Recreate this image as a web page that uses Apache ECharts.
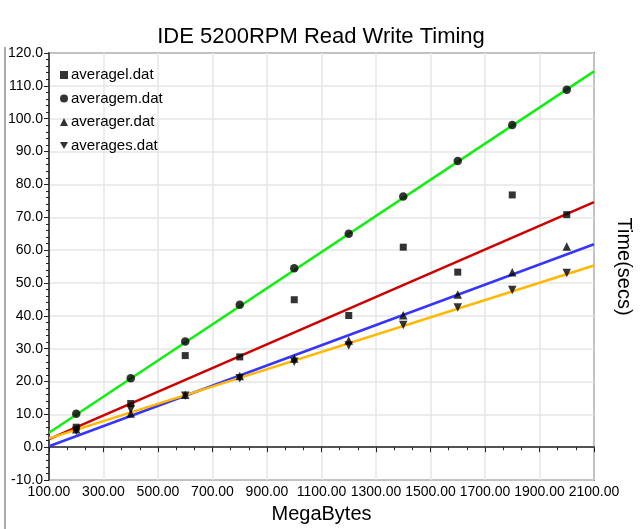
<!DOCTYPE html>
<html>
<head>
<meta charset="utf-8">
<script src="https://cdn.jsdelivr.net/npm/echarts@6/dist/echarts.min.js"></script>
<style>
html,body{margin:0;padding:0;background:#fff;overflow:hidden;}
#chart{width:642px;height:529px;}
</style>
</head>
<body>
<div id="chart"></div>
<script>
// ---- data ----
var megaBytes = [200, 400, 600, 800, 1000, 1200, 1400, 1600, 1800, 2000];
var averagel = [6.1, 13.3, 27.9, 27.5, 44.9, 40.1, 60.9, 53.3, 76.8, 70.8];
var averagem = [10.2, 21.0, 32.2, 43.4, 54.5, 65.0, 76.3, 87.1, 98.1, 108.8];
var averager = [5.5, 10.3, 16.0, 21.7, 27.0, 32.5, 40.2, 46.5, 53.3, 61.1];
var averages = [5.0, 11.5, 15.7, 21.0, 26.0, 31.0, 37.2, 42.5, 47.9, 53.0];
// fit line end points (x at 100 and 2100)
var fitX = [100, 2100];
var fitL = [2.5, 74.6];
var fitM = [4.4, 114.4];
var fitR = [0.3, 61.8];
var fitS = [2.7, 55.3];
var seriesNames = ['averagel.dat', 'averagem.dat', 'averager.dat', 'averages.dat'];
var xTicks = {min: 100, max: 2100, interval: 200};
var yTicks = {min: -10, max: 120, interval: 10};

function pairs(xs, ys) { return xs.map(function (x, i) { return [x, ys[i]]; }); }

var FONT = '"Liberation Sans", Arial, Helvetica, sans-serif';
var downTri = 'path://M0,0L10,0L5,9Z';
var symbols = ['rect', 'circle', 'triangle', downTri];
var sizes = [7, 8.5, 8.5, 8.5];
var vals = [averagel, averagem, averager, averages];

var chart = echarts.init(document.getElementById('chart'), null, {renderer: 'canvas', width: 642, height: 529});

var series = [];
var fits = [[fitL, '#cc0000'], [fitM, '#11ee11'], [fitR, '#3535ff'], [fitS, '#ffb800']];
fits.forEach(function (f) {
  series.push({
    type: 'line', data: pairs(fitX, f[0]), showSymbol: false, symbol: 'none',
    lineStyle: {color: f[1], width: 2.5}, silent: true, z: 2, animation: false
  });
});
seriesNames.forEach(function (n, i) {
  series.push({
    name: n, type: 'scatter', data: pairs(megaBytes, vals[i]),
    symbol: symbols[i], symbolSize: sizes[i],
    itemStyle: {color: '#000'}, z: 5, animation: false
  });
});

chart.setOption({
  backgroundColor: '#fff',
  animation: false,
  title: {
    text: 'IDE 5200RPM Read Write Timing', left: 'center', top: 21,
    textStyle: {fontFamily: FONT, fontSize: 22, fontWeight: 'normal', color: '#000'}
  },
  graphic: [{
    type: 'line', shape: {x1: 5, y1: 47, x2: 5, y2: 529},
    style: {stroke: '#555', lineWidth: 1}, silent: true
  }],
  legend: {
    orient: 'vertical', left: 55, top: 62, itemGap: 7.5,
    itemWidth: 8, itemHeight: 8,
    data: seriesNames.map(function (n, i) { return {name: n, icon: symbols[i]}; }),
    textStyle: {fontFamily: FONT, fontSize: 15, lineHeight: 16, color: '#000', padding: [0, 0, 0, -2]},
    itemStyle: {color: '#000'}
  },
  grid: {left: 49, right: 37, top: 53, bottom: 41, show: true, borderColor: '#222', borderWidth: 1.5},
  xAxis: {
    type: 'value', min: xTicks.min, max: xTicks.max, interval: xTicks.interval,
    name: 'MegaBytes', nameLocation: 'middle', nameGap: 21,
    nameTextStyle: {fontFamily: FONT, fontSize: 20, color: '#000'},
    axisLine: {lineStyle: {color: '#222', width: 1.5}},
    axisTick: {show: true, length: 5, lineStyle: {color: '#222'}},
    minorTick: {show: true, splitNumber: 3, length: 3, lineStyle: {color: '#222'}},
    axisLabel: {fontFamily: FONT, fontSize: 14, color: '#000', margin: 5,
      formatter: function (v) { return v.toFixed(2); }},
    splitLine: {show: true, lineStyle: {color: '#e6e6e6', width: 1.5}}
  },
  yAxis: [{
    type: 'value', min: yTicks.min, max: yTicks.max, interval: yTicks.interval,
    axisLine: {show: true, lineStyle: {color: '#222', width: 1.5}},
    axisTick: {show: true, length: 5, lineStyle: {color: '#222'}},
    minorTick: {show: true, splitNumber: 5, length: 3, lineStyle: {color: '#222'}},
    axisLabel: {fontFamily: FONT, fontSize: 14, color: '#000', margin: 6,
      formatter: function (v) { return v.toFixed(1); }},
    splitLine: {show: true, lineStyle: {color: '#e6e6e6', width: 1.5}}
  }, {
    type: 'value', position: 'right', min: yTicks.min, max: yTicks.max, interval: yTicks.interval,
    name: 'Time(secs)', nameLocation: 'middle', nameRotate: -90, nameGap: 20,
    nameTextStyle: {fontFamily: FONT, fontSize: 20, color: '#000'},
    axisLine: {show: false}, axisTick: {show: false}, axisLabel: {show: false}, splitLine: {show: false}
  }],
  series: series
});
</script>
</body>
</html>
